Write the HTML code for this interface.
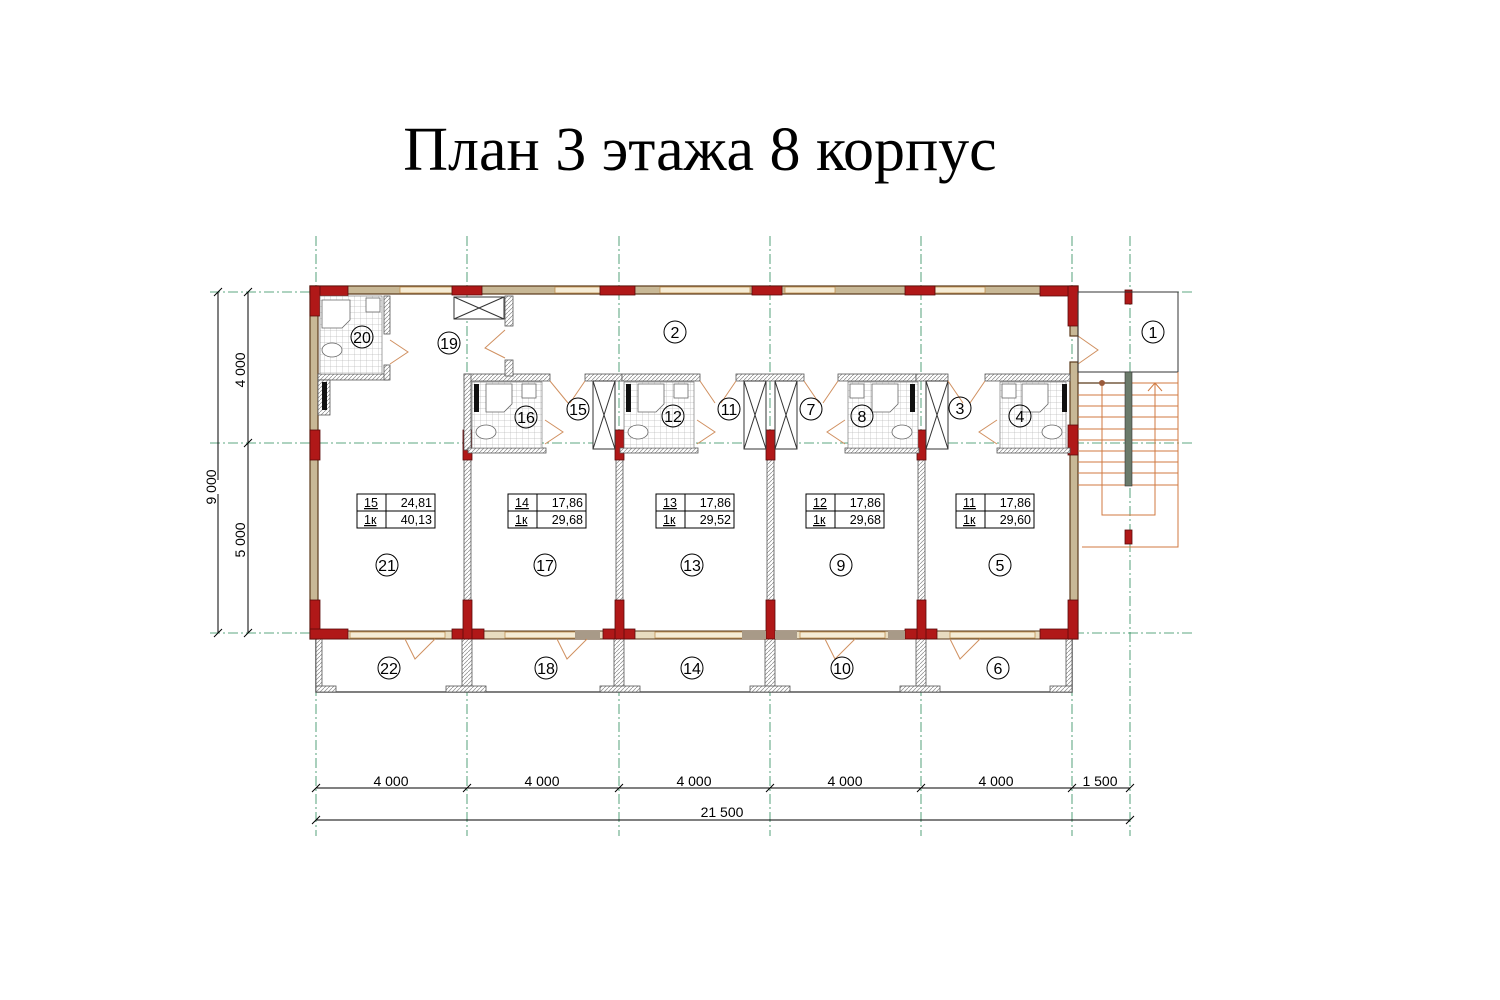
<!DOCTYPE html>
<html><head><meta charset="utf-8"><style>
html,body{margin:0;padding:0;background:#fff;width:1500px;height:1000px;overflow:hidden}
svg{display:block}
text{font-family:"Liberation Sans",sans-serif}
</style></head><body>
<svg width="1500" height="1000" viewBox="0 0 1500 1000" xmlns="http://www.w3.org/2000/svg">
<defs>
<pattern id="tile" width="6" height="6" patternUnits="userSpaceOnUse"><rect width="6" height="6" fill="#fff"/><path d="M0 0H6M0 0V6" stroke="#bbb" stroke-width="0.7"/></pattern>
<pattern id="hatch" width="4" height="4" patternUnits="userSpaceOnUse"><rect width="4" height="4" fill="#fff"/><path d="M0 4L4 0" stroke="#888" stroke-width="0.7"/></pattern>
</defs>
<text x="700" y="170" font-size="62" text-anchor="middle" fill="#000" style="font-family:'Liberation Serif',serif">План 3 этажа 8 корпус</text>

<g stroke="#2a8a5a" stroke-width="0.8" stroke-dasharray="10,3,2,3" fill="none">
<path d="M316 236V836M467 236V836M619 236V836M770 236V836M921 236V836M1072 236V836M1130 236V836"/>
<path d="M210 292H1192M210 443H1192M210 633H1192"/>
</g>
<g stroke="#000" stroke-width="1" fill="none">
<path d="M218 292V633M248 292V633"/>
<path d="M214 296l8-8M214 637l8-8M244 296l8-8M244 447l8-8M244 637l8-8"/>
<path d="M316 788H1130M316 820H1130"/>
<path d="M312 792l8-8M463 792l8-8M615 792l8-8M766 792l8-8M917 792l8-8M1068 792l8-8M1126 792l8-8M312 824l8-8M1126 824l8-8"/>
</g>
<g font-size="14" fill="#000">
<text transform="translate(245 370) rotate(-90)" text-anchor="middle">4 000</text>
<text transform="translate(245 540) rotate(-90)" text-anchor="middle">5 000</text>
<text x="391" y="786" text-anchor="middle">4 000</text>
<text x="542" y="786" text-anchor="middle">4 000</text>
<text x="694" y="786" text-anchor="middle">4 000</text>
<text x="845" y="786" text-anchor="middle">4 000</text>
<text x="996" y="786" text-anchor="middle">4 000</text>
<text x="1100" y="786" text-anchor="middle">1 500</text>
<text x="722" y="817" text-anchor="middle">21 500</text>
</g>
<rect x="200" y="480" width="30" height="14" fill="#fff"/>
<text transform="translate(216 487) rotate(-90)" text-anchor="middle" font-size="14">9 000</text>

<g fill="none" stroke="#555" stroke-width="1.5">
<path d="M316 639V692H1072V639"/>
<path d="M467 639V692M619 639V692M770 639V692M921 639V692"/>
</g>
<g fill="url(#hatch)" stroke="#555" stroke-width="0.8">
<rect x="316" y="639" width="6" height="53"/><rect x="1066" y="639" width="6" height="53"/>
<rect x="462" y="639" width="10" height="53"/><rect x="614" y="639" width="10" height="53"/><rect x="765" y="639" width="10" height="53"/><rect x="916" y="639" width="10" height="53"/>
<rect x="316" y="686" width="20" height="6"/><rect x="446" y="686" width="40" height="6"/><rect x="600" y="686" width="40" height="6"/><rect x="750" y="686" width="40" height="6"/><rect x="900" y="686" width="40" height="6"/><rect x="1050" y="686" width="22" height="6"/>
</g>

<g>
<rect x="310" y="286" width="768" height="8" fill="#c8b896" stroke="#5a3a1a" stroke-width="1.2"/>
<rect x="310" y="631" width="768" height="8" fill="#e8dcc0" stroke="#5a3a1a" stroke-width="1"/>
<rect x="310" y="286" width="8" height="353" fill="#c8b896" stroke="#5a3a1a" stroke-width="1.2"/>
<rect x="1070" y="286" width="8" height="50" fill="#c8b896" stroke="#5a3a1a" stroke-width="1.2"/>
<rect x="1070" y="362" width="8" height="277" fill="#c8b896" stroke="#5a3a1a" stroke-width="1.2"/>
</g>
<g fill="#f5ecd6" stroke="#c09050" stroke-width="0.8">
<rect x="400" y="287" width="52" height="6"/><rect x="555" y="287" width="45" height="6"/><rect x="660" y="287" width="90" height="6"/><rect x="785" y="287" width="50" height="6"/><rect x="935" y="287" width="50" height="6"/>
<rect x="350" y="632" width="95" height="6"/><rect x="505" y="632" width="90" height="6"/><rect x="655" y="632" width="90" height="6"/><rect x="800" y="632" width="85" height="6"/><rect x="950" y="632" width="85" height="6"/>
</g>
<g fill="url(#hatch)" stroke="#555" stroke-width="0.8">
<rect x="464" y="450" width="7" height="183"/><rect x="616" y="450" width="7" height="183"/><rect x="767" y="450" width="7" height="183"/><rect x="918" y="450" width="7" height="183"/>
</g>
<g fill="#b01818" stroke="#5a0a0a" stroke-width="0.8">
<rect x="310" y="286" width="38" height="10"/><rect x="310" y="286" width="10" height="30"/>
<rect x="1040" y="286" width="38" height="10"/><rect x="1068" y="286" width="10" height="40"/>
<rect x="452" y="286" width="30" height="9"/><rect x="600" y="286" width="35" height="9"/><rect x="752" y="286" width="30" height="9"/><rect x="905" y="286" width="30" height="9"/>
<rect x="310" y="430" width="10" height="30"/><rect x="310" y="600" width="10" height="39"/><rect x="310" y="629" width="38" height="10"/>
<rect x="1040" y="629" width="38" height="10"/><rect x="1068" y="600" width="10" height="39"/><rect x="1068" y="425" width="10" height="30"/>
<rect x="452" y="629" width="32" height="10"/><rect x="463" y="600" width="9" height="39"/>
<rect x="603" y="629" width="32" height="10"/><rect x="615" y="600" width="9" height="39"/>
<rect x="766" y="600" width="9" height="39"/><rect x="905" y="629" width="32" height="10"/><rect x="917" y="600" width="9" height="39"/>
<rect x="463" y="430" width="9" height="30"/><rect x="615" y="430" width="9" height="30"/><rect x="766" y="430" width="9" height="30"/><rect x="917" y="430" width="9" height="30"/>
<rect x="1125" y="290" width="7" height="14"/><rect x="1125" y="530" width="7" height="14"/>
</g>
<g fill="#a89a88"><rect x="575" y="631" width="25" height="8"/><rect x="742" y="631" width="24" height="8"/><rect x="775" y="631" width="22" height="8"/><rect x="888" y="631" width="17" height="8"/></g>

<g fill="url(#hatch)" stroke="#555" stroke-width="0.8">
<rect x="464" y="374" width="86" height="7"/><rect x="585" y="374" width="37" height="7"/><rect x="622" y="374" width="78" height="7"/>
<rect x="736" y="374" width="68" height="7"/><rect x="838" y="374" width="78" height="7"/><rect x="916" y="374" width="32" height="7"/><rect x="985" y="374" width="85" height="7"/>
<rect x="464" y="374" width="7" height="76"/><rect x="468" y="448" width="78" height="5"/><rect x="620" y="448" width="78" height="5"/><rect x="845" y="448" width="74" height="5"/><rect x="997" y="448" width="73" height="5"/>
<rect x="505" y="296" width="8" height="30"/><rect x="505" y="360" width="8" height="16"/>
<rect x="384" y="296" width="6" height="38"/><rect x="318" y="374" width="70" height="6"/><rect x="384" y="365" width="6" height="15"/>
<rect x="318" y="380" width="12" height="35"/>
</g>
<g fill="url(#tile)" stroke="#666" stroke-width="0.6">
<rect x="320" y="296" width="62" height="78"/>
<rect x="472" y="382" width="70" height="66"/><rect x="624" y="382" width="70" height="66"/><rect x="848" y="382" width="70" height="66"/><rect x="1000" y="382" width="66" height="66"/>
</g>
<g fill="#fff" stroke="#666" stroke-width="0.8">
<path d="M322 300h28v20l-8 8h-20z"/><rect x="366" y="298" width="14" height="14"/><ellipse cx="332" cy="350" rx="10" ry="7"/>
<path d="M486 384h26v20l-8 8h-18z"/><ellipse cx="486" cy="432" rx="10" ry="7"/><rect x="522" y="384" width="14" height="14"/>
<path d="M638 384h26v20l-8 8h-18z"/><ellipse cx="638" cy="432" rx="10" ry="7"/><rect x="674" y="384" width="14" height="14"/>
<path d="M872 384h26v20l-8 8h-18z"/><ellipse cx="902" cy="432" rx="10" ry="7"/><rect x="850" y="384" width="14" height="14"/>
<path d="M1022 384h26v20l-8 8h-18z"/><ellipse cx="1052" cy="432" rx="10" ry="7"/><rect x="1002" y="384" width="14" height="14"/>
</g>
<g fill="#111"><rect x="474" y="384" width="5" height="28"/><rect x="626" y="384" width="5" height="28"/><rect x="910" y="384" width="5" height="28"/><rect x="1062" y="384" width="5" height="28"/><rect x="322" y="382" width="5" height="28"/></g>
<g fill="#fff" stroke="#333" stroke-width="1">
<rect x="454" y="297" width="50" height="22"/><path d="M454 297L504 319M504 297L454 319"/>
<rect x="593" y="381" width="22" height="68"/><path d="M593 381L615 449M615 381L593 449"/>
<rect x="744" y="381" width="22" height="68"/><path d="M744 381L766 449M766 381L744 449"/>
<rect x="775" y="381" width="22" height="68"/><path d="M775 381L797 449M797 381L775 449"/>
<rect x="926" y="381" width="22" height="68"/><path d="M926 381L948 449M948 381L926 449"/>
</g>
<g fill="none" stroke="#d09060" stroke-width="1">
<path d="M390 340l18 12-18 12"/><path d="M505 330l-20 18 20 10"/>
<path d="M550 381l18 22M585 381l-15 22"/><path d="M545 420l18 12-18 12"/>
<path d="M700 381l15 22M736 381l-15 22"/><path d="M697 420l18 12-18 12"/>
<path d="M804 381l15 22M838 381l-15 22"/><path d="M845 420l-18 12 18 12"/>
<path d="M948 381l15 22M985 381l-15 22"/><path d="M997 420l-18 12 18 12"/>
<path d="M1078 336l20 14-20 14"/>
<path d="M405 639l10 20 20-20M557 639l10 20 20-20M825 639l10 20 20-20M950 639l10 20 20-20"/>
</g>
<rect x="1078" y="292" width="100" height="80" fill="none" stroke="#333" stroke-width="1"/>
<g stroke="#d07a40" stroke-width="1" fill="none">
<path d="M1078 383H1178M1078 395H1178M1078 406H1178M1078 417H1178M1078 429H1178M1078 440H1178M1078 451H1178M1078 462H1178M1078 473H1178M1078 485H1178"/>
<path d="M1102 383V515H1155V383M1148 391l7-8 7 8M1178 372V547H1082"/>
</g>
<path d="M1078 383H1128" stroke="#5a3a1a" stroke-width="1.2"/>
<circle cx="1102" cy="383" r="3" fill="#9a5a3a"/>
<rect x="1125" y="372" width="7" height="114" fill="#6a7a6a" stroke="#333" stroke-width="0.6"/>

<g font-size="16" text-anchor="middle" fill="#000">
<g fill="none" stroke="#000" stroke-width="1">
<circle cx="362" cy="337" r="11"/><circle cx="449" cy="343" r="11"/><circle cx="675" cy="332" r="11"/><circle cx="1153" cy="332" r="11"/>
<circle cx="526" cy="417" r="11"/><circle cx="578" cy="409" r="11"/><circle cx="673" cy="416" r="11"/><circle cx="729" cy="409" r="11"/><circle cx="811" cy="409" r="11"/><circle cx="862" cy="416" r="11"/><circle cx="960" cy="408" r="11"/><circle cx="1020" cy="416" r="11"/>
<circle cx="387" cy="565" r="11"/><circle cx="545" cy="565" r="11"/><circle cx="692" cy="565" r="11"/><circle cx="841" cy="565" r="11"/><circle cx="1000" cy="565" r="11"/>
<circle cx="389" cy="668" r="11"/><circle cx="546" cy="668" r="11"/><circle cx="692" cy="668" r="11"/><circle cx="842" cy="668" r="11"/><circle cx="998" cy="668" r="11"/>
</g>
<text x="362" y="343">20</text><text x="449" y="349">19</text><text x="675" y="338">2</text><text x="1153" y="338">1</text>
<text x="526" y="423">16</text><text x="578" y="415">15</text><text x="673" y="422">12</text><text x="729" y="415">11</text><text x="811" y="415">7</text><text x="862" y="422">8</text><text x="960" y="414">3</text><text x="1020" y="422">4</text>
<text x="387" y="571">21</text><text x="545" y="571">17</text><text x="692" y="571">13</text><text x="841" y="571">9</text><text x="1000" y="571">5</text>
<text x="389" y="674">22</text><text x="546" y="674">18</text><text x="692" y="674">14</text><text x="842" y="674">10</text><text x="998" y="674">6</text>
</g>
<g font-size="12.5" fill="#000">
<g fill="none" stroke="#000" stroke-width="1">
<rect x="357" y="494" width="78" height="34"/><path d="M357 511H435M386 494V528"/>
<rect x="508" y="494" width="78" height="34"/><path d="M508 511H586M537 494V528"/>
<rect x="656" y="494" width="78" height="34"/><path d="M656 511H734M685 494V528"/>
<rect x="806" y="494" width="78" height="34"/><path d="M806 511H884M835 494V528"/>
<rect x="956" y="494" width="78" height="34"/><path d="M956 511H1034M985 494V528"/>
</g>
<text x="364" y="507" text-decoration="underline">15</text><text x="432" y="507" text-anchor="end">24,81</text><text x="364" y="524" text-decoration="underline">1к</text><text x="432" y="524" text-anchor="end">40,13</text>
<text x="515" y="507" text-decoration="underline">14</text><text x="583" y="507" text-anchor="end">17,86</text><text x="515" y="524" text-decoration="underline">1к</text><text x="583" y="524" text-anchor="end">29,68</text>
<text x="663" y="507" text-decoration="underline">13</text><text x="731" y="507" text-anchor="end">17,86</text><text x="663" y="524" text-decoration="underline">1к</text><text x="731" y="524" text-anchor="end">29,52</text>
<text x="813" y="507" text-decoration="underline">12</text><text x="881" y="507" text-anchor="end">17,86</text><text x="813" y="524" text-decoration="underline">1к</text><text x="881" y="524" text-anchor="end">29,68</text>
<text x="963" y="507" text-decoration="underline">11</text><text x="1031" y="507" text-anchor="end">17,86</text><text x="963" y="524" text-decoration="underline">1к</text><text x="1031" y="524" text-anchor="end">29,60</text>
</g>
</svg>
</body></html>
